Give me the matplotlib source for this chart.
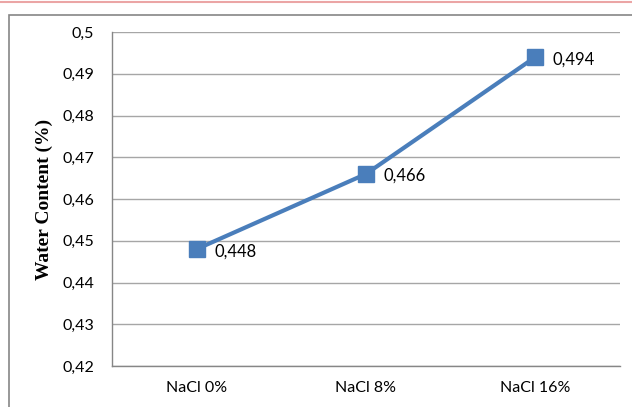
import numpy as np
import matplotlib.pyplot as plt
from matplotlib.patches import Rectangle
from matplotlib.lines import Line2D

categories = ['NaCl 0%', 'NaCl 8%', 'NaCl 16%']
water_content = [0.448, 0.466, 0.494]
y_ticks = [0.42, 0.43, 0.44, 0.45, 0.46, 0.47, 0.48, 0.49, 0.50]

blue = '#4a7ebb'
grid_gray = '#a6a6a6'
label_font = ['Lato', 'DejaVu Sans']

fig = plt.figure(figsize=(6.32, 4.07), dpi=100)
ax = fig.add_axes([112/632, 1-366/407, 508/632, 334/407])

x = np.arange(len(categories))
ax.plot(x, water_content, color=blue, lw=3, marker='s', ms=11,
        mfc=blue, mec=blue, solid_capstyle='round', zorder=3)

for xi, v in zip(x, water_content):
    ax.annotate(('%.3f' % v).replace('.', ','), (xi, v), xytext=(12.5, -1.5),
                textcoords='offset points', va='center', ha='left',
                fontsize=12, family=label_font, color='black')

ax.set_xlim(-0.5, len(categories) - 0.5)
ax.set_ylim(0.42, 0.50)
ax.set_yticks(y_ticks)
ax.set_yticklabels([('%g' % t).replace('.', ',') for t in y_ticks],
                   fontsize=11.5, family=label_font)
ax.set_xticks(x)
ax.set_xticklabels(categories, fontsize=11.5, family=label_font)
ax.tick_params(length=0, pad=13, colors='black')
ax.tick_params(axis='x', pad=11)
ax.yaxis.grid(True, color=grid_gray, lw=1)
ax.set_axisbelow(True)
for s in ['top', 'right']:
    ax.spines[s].set_visible(False)
for s in ['left', 'bottom']:
    ax.spines[s].set_color('#868686')
    ax.spines[s].set_linewidth(1)

ax.set_ylabel('Water Content (%)', family='Liberation Serif', fontweight='bold',
              fontsize=14)
ax.yaxis.set_label_coords(-59/508, 0.5)

# chart frame and top rule
fig.patches.append(Rectangle((9/632, -0.1), 1.2, 1 - 15/407 + 0.1,
                             transform=fig.transFigure, fill=False,
                             ec='#868686', lw=1.2))
fig.lines.append(Line2D([0, 1], [1 - 1.5/407] * 2, transform=fig.transFigure,
                        color='#eba5a5', lw=1.5))

fig.savefig('out.png', dpi=100)
